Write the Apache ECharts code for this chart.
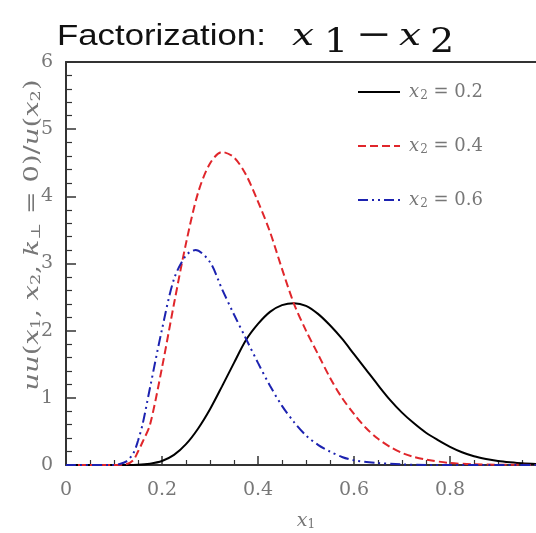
<!DOCTYPE html>
<html>
<head>
<meta charset="utf-8">
<script src="https://cdn.jsdelivr.net/npm/echarts@6/dist/echarts.min.js"></script>
<style>html,body{margin:0;padding:0;background:#fff}#c{width:536px;height:533px}</style>
</head>
<body>
<div id="c"></div>
<script>
// x2 = 0.2 (black solid)
var xA = [0,0.1,0.15,0.175,0.2,0.225,0.25,0.275,0.3,0.325,0.35,0.375,0.4,0.425,0.45,0.475,0.5,0.525,0.55,0.575,0.6,0.625,0.65,0.675,0.7,0.725,0.75,0.775,0.8,0.825,0.85,0.875,0.9,0.925,0.95,1.0];
var yA = [0,0,0.005,0.02,0.06,0.15,0.31,0.54,0.83,1.17,1.52,1.86,2.1,2.28,2.38,2.41,2.37,2.25,2.08,1.88,1.65,1.42,1.19,0.97,0.78,0.62,0.48,0.37,0.27,0.19,0.13,0.09,0.06,0.04,0.025,0.01];
// x2 = 0.4 (red dashed)
var xB = [0,0.1,0.125,0.14,0.15,0.16,0.175,0.2,0.225,0.25,0.275,0.3,0.325,0.35,0.375,0.4,0.425,0.45,0.475,0.5,0.525,0.55,0.575,0.6,0.625,0.65,0.675,0.7,0.725,0.75,0.8,0.85,0.9,1.0];
var yB = [0,0,0.01,0.07,0.2,0.35,0.6,1.45,2.4,3.3,4.05,4.49,4.66,4.58,4.32,3.92,3.47,2.92,2.4,2.0,1.65,1.3,1.0,0.76,0.55,0.39,0.27,0.18,0.12,0.08,0.03,0.01,0.005,0];
// x2 = 0.6 (blue dash-dot-dot)
var xC = [0,0.1,0.11,0.125,0.14,0.15,0.16,0.175,0.2,0.225,0.25,0.27,0.3,0.325,0.35,0.375,0.4,0.425,0.45,0.475,0.5,0.525,0.55,0.575,0.6,0.65,0.7,0.75,1.0];
var yC = [0,0,0.01,0.05,0.17,0.36,0.62,1.15,2.02,2.77,3.12,3.2,3.02,2.62,2.24,1.88,1.52,1.18,0.88,0.64,0.44,0.3,0.2,0.12,0.07,0.03,0.01,0,0];
var seriesNames = ['a','b','c'];
var legendValues = ['0.2','0.4','0.6'];

function zip(xs, ys){ return xs.map(function(x,i){ return [x, ys[i]]; }); }

var serif = '"DejaVu Serif", "Liberation Serif", serif';
var gray = '#777';

var chart = echarts.init(document.getElementById('c'));
chart.setOption({
  animation: false,
  backgroundColor: '#fff',
  grid: { left: 66, right: -10, top: 62, bottom: 68, containLabel: false, outerBoundsMode: 'none' },
  legend: {
    orient: 'vertical',
    left: 352, top: 77,
    itemWidth: 42, itemHeight: 14, itemGap: 34,
    itemStyle: { opacity: 0 },
    data: seriesNames,
    formatter: function(n){ return '{i|x}{s|2}{t| = ' + legendValues[seriesNames.indexOf(n)] + '}'; },
    textStyle: {
      color: gray, fontFamily: serif, fontSize: 18, lineHeight: 20,
      rich: {
        i: { fontFamily: serif, fontStyle: 'italic', fontSize: 18, color: gray, padding: [0,0,0,4], lineHeight: 20 },
        s: { fontFamily: serif, fontSize: 12, color: gray, padding: [7,0,0,1], lineHeight: 20 },
        t: { fontFamily: serif, fontSize: 18, color: gray, lineHeight: 20 }
      }
    }
  },
  xAxis: [{
    type: 'value', min: 0, max: 1, interval: 0.2,
    axisLine: { show: true, onZero: false, lineStyle: { color: '#333', width: 2 } },
    axisTick: { inside: true, length: 9, lineStyle: { color: '#333', width: 1.5 } },
    minorTick: { show: true, splitNumber: 4, length: 5, lineStyle: { color: '#333', width: 1.2 } },
    splitLine: { show: false },
    axisLabel: { color: gray, fontFamily: serif, fontSize: 19, margin: 16, showMaxLabel: false,
      formatter: function(v){ return v === 0 ? '0' : v.toFixed(1); } },
    name: '{i|x}{s|1}', nameLocation: 'middle', nameGap: 46,
    nameTextStyle: { rich: {
      i: { fontFamily: serif, fontStyle: 'italic', fontSize: 19, color: gray },
      s: { fontFamily: serif, fontSize: 12, color: gray, padding: [8,0,0,0] }
    } }
  }, {
    type: 'value', min: 0, max: 1, position: 'top',
    axisLine: { show: true, onZero: false, lineStyle: { color: '#333', width: 2 } },
    axisTick: { show: false }, axisLabel: { show: false }, splitLine: { show: false }
  }],
  yAxis: {
    type: 'value', min: 0, max: 6, interval: 1,
    axisLine: { show: true, onZero: false, lineStyle: { color: '#333', width: 2 } },
    axisTick: { inside: true, length: 10, lineStyle: { color: '#333', width: 1.5 } },
    minorTick: { show: true, splitNumber: 5, length: 6, lineStyle: { color: '#333', width: 1.2 } },
    splitLine: { show: false },
    axisLabel: { color: gray, fontFamily: serif, fontSize: 19, margin: 13 }
  },
  graphic: [
    { type: 'text', x: 57, y: 22, scaleX: 1.2, style: { text: 'Factorization:', font: '29px "Liberation Sans", Arial, sans-serif', fill: '#111', align: 'left', verticalAlign: 'top' } },
    { type: 'text', x: 292, y: 23, scaleX: 1.35, style: { text: 'x', font: 'italic 29px "DejaVu Serif", serif', fill: '#111', align: 'left', verticalAlign: 'top' } },
    { type: 'text', x: 324, y: 27, scaleX: 1.15, style: { text: '1', font: '33px "DejaVu Serif", serif', fill: '#111', align: 'left', verticalAlign: 'top' } },
    { type: 'text', x: 356, y: 20, scaleX: 1.3, style: { text: '\u2212', font: '33px "DejaVu Serif", serif', fill: '#111', align: 'left', verticalAlign: 'top' } },
    { type: 'text', x: 399, y: 23, scaleX: 1.35, style: { text: 'x', font: 'italic 29px "DejaVu Serif", serif', fill: '#111', align: 'left', verticalAlign: 'top' } },
    { type: 'text', x: 430, y: 27, scaleX: 1.15, style: { text: '2', font: '33px "DejaVu Serif", serif', fill: '#111', align: 'left', verticalAlign: 'top' } },
    { type: 'text', x: 33, y: 235, rotation: Math.PI / 2, scaleX: 1.37,
      style: {
        text: '{i|uu}{n|(}{i|x}{s|1}{n|, }{i|x}{s|2}{n|, }{i|k}{s|\u22A5}{n| = 0)/}{i|u}{n|(}{i|x}{s|2}{n|)}',
        align: 'center', verticalAlign: 'middle',
        rich: {
          i: { fontFamily: serif, fontStyle: 'italic', fontSize: 20, fill: gray },
          n: { fontFamily: serif, fontSize: 20, fill: gray },
          s: { fontFamily: serif, fontSize: 13, fill: gray, padding: [8,0,0,0] }
        }
      } }
  ],
  series: [
    { name: 'a', type: 'line', data: zip(xA, yA), showSymbol: false, symbol: 'none', smooth: 0.3,
      lineStyle: { color: '#000', width: 2, type: 'solid' }, itemStyle: { color: '#000' } },
    { name: 'b', type: 'line', data: zip(xB, yB), showSymbol: false, symbol: 'none', smooth: 0.3,
      lineStyle: { color: '#e0262b', width: 2, type: [8, 4] }, itemStyle: { color: '#e0262b' } },
    { name: 'c', type: 'line', data: zip(xC, yC), showSymbol: false, symbol: 'none', smooth: 0.3,
      lineStyle: { color: '#1c22b0', width: 2, type: [10, 4, 2, 4, 2, 4] }, itemStyle: { color: '#1c22b0' } }
  ]
});
</script>
</body>
</html>
